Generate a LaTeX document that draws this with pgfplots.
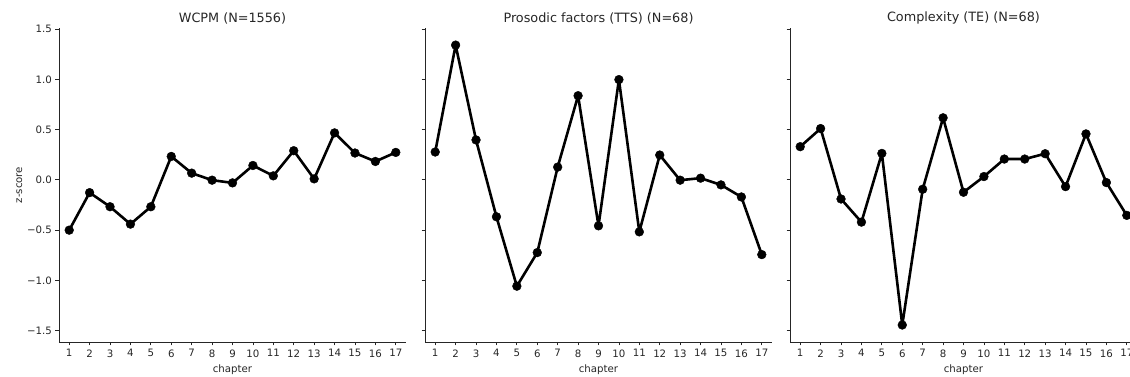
\documentclass[border=0pt]{standalone}
\usepackage{fontspec}
\setmainfont{DejaVu Sans}
\usepackage{pgfplots}
\pgfplotsset{compat=1.18}
\definecolor{ink}{gray}{0.15}
\pgfplotsset{
  panel/.style={
    width=347pt, height=314pt, scale only axis,
    xmin=0.5, xmax=17.5, ymin=-1.612, ymax=1.51,
    axis x line*=bottom, axis y line*=left,
    axis line style={-, ink, line width=0.8pt},
    tick align=outside, major tick length=3.5pt,
    every tick/.style={ink, line width=0.8pt},
    xtick={1,...,17},
    xticklabels={1,2,3,4,5,6,7,8,9,10,11,12,13,14,15,16,17},
    ytick={-1.5,-1,-0.5,0,0.5,1,1.5},
    ticklabel style={font=\fontsize{10.2}{12}\selectfont, text=ink},
    x tick label style={yshift=-0.5pt},
    xlabel={chapter},
    xlabel style={font=\fontsize{10.2}{12}\selectfont, text=ink, yshift=-1pt},
    title style={font=\fontsize{12.8}{15}\selectfont, text=ink, yshift=-5.5pt},
    clip=false,
  },
  ser/.style={black, line width=2.6pt, line join=round, line cap=round,
    mark=*, mark size=4.4pt,
    mark options={fill=black, line width=0.4pt}},
}
\begin{document}
\begin{tikzpicture}
\begin{axis}[panel, at={(0pt,0pt)}, anchor=south west,
  title={WCPM (N=1556)},
  yticklabels={−1.5,−1.0,−0.5,0.0,0.5,1.0,1.5},
  ylabel={z-score},
  ylabel style={font=\fontsize{10.2}{12}\selectfont, text=ink, yshift=-2pt}]
\addplot[ser] coordinates {
(1,-0.50) (2,-0.127) (3,-0.267) (4,-0.44) (5,-0.267) (6,0.233) (7,0.067)
(8,-0.003) (9,-0.03) (10,0.143) (11,0.04) (12,0.29) (13,0.01) (14,0.467)
(15,0.267) (16,0.183) (17,0.273)};
\end{axis}
\begin{axis}[panel, at={(366pt,0pt)}, anchor=south west,
  title={Prosodic factors (TTS) (N=68)},
  yticklabels={}]
\addplot[ser] coordinates {
(1,0.277) (2,1.34) (3,0.397) (4,-0.367) (5,-1.057) (6,-0.723) (7,0.127)
(8,0.837) (9,-0.457) (10,0.997) (11,-0.517) (12,0.247) (13,-0.003)
(14,0.017) (15,-0.05) (16,-0.17) (17,-0.743)};
\end{axis}
\begin{axis}[panel, at={(731pt,0pt)}, anchor=south west,
  title={Complexity (TE) (N=68)},
  yticklabels={}]
\addplot[ser] coordinates {
(1,0.33) (2,0.51) (3,-0.19) (4,-0.42) (5,0.263) (6,-1.443) (7,-0.093)
(8,0.617) (9,-0.123) (10,0.033) (11,0.207) (12,0.207) (13,0.26)
(14,-0.067) (15,0.457) (16,-0.027) (17,-0.353)};
\end{axis}
\pgfresetboundingbox
\path[use as bounding box] (-59pt,-35pt) rectangle (1071pt,342pt);
\end{tikzpicture}
\end{document}
